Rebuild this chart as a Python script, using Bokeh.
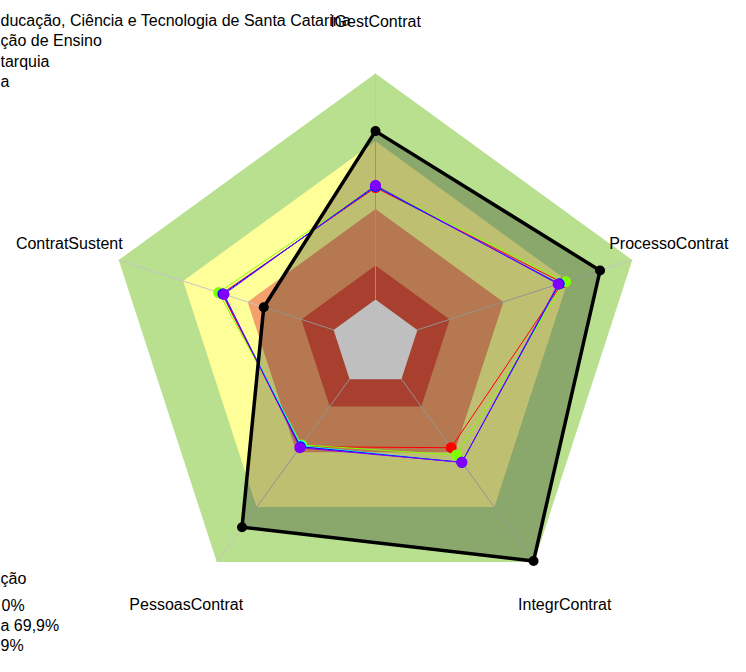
import math
from bokeh.plotting import figure
from bokeh.models import Range1d
from bokeh.embed import file_html
from bokeh.resources import INLINE
from bokeh.core.properties import value

# ---------------- data ----------------
axis_labels = ["IGestContrat", "ProcessoContrat", "IntegrContrat", "PessoasContrat", "ContratSustent"]

# classification bands (upper limit in %), drawn from outside in
band_tops = [100, 70, 40, 15, 0]
band_colors = ["#B9E08F", "#FFFF99", "#F3A06C", "#E0553F", "#FFFFFF"]

# organisation (black, filled)
org_values = [74.5, 85.0, 99.5, 81.0, 32.5]

# comparison series
series_red = [49.5, 67.5, 37.5, 37.0, 52.0]
series_green = [50.5, 69.0, 41.5, 36.0, 53.5]
series_cyan = [50.0, 66.0, 45.5, 36.5, 51.5]
series_blue = [50.0, 66.0, 45.5, 37.0, 51.5]
series_purple = [50.5, 65.5, 45.5, 37.5, 51.0]
series_colors = ["#FF0000", "#80FF00", "#00FFFF", "#0000FF", "#8000FF"]

# legend texts (only the parts visible in the original, which is cut at the left edge)
legend_top = [
    "ducação, Ciência e Tecnologia de Santa Catarina",
    "ção de Ensino",
    "tarquia",
    "a",
]
legend_bottom = [
    "ção",
    "0%",
    "a 69,9%",
    "9%",
]

# ---------------- geometry / style ----------------
HOLE = 19.5              # radial offset (units) of the value 0
OUTER_PX = 270.0         # pixel radius of 100 %
K = OUTER_PX / (HOLE + 100)   # pixels per unit
W, H = 730, 656
CX, CY = 375, 343        # centre in figure pixels

N = len(axis_labels)
angles = [math.pi / 2 - i * 2 * math.pi / N for i in range(N)]


def polar(vals):
    xs = [(HOLE + v) * math.cos(a) for v, a in zip(vals, angles)]
    ys = [(HOLE + v) * math.sin(a) for v, a in zip(vals, angles)]
    return xs, ys


def px(X, Y):
    """figure pixel -> data units"""
    return (X - CX) / K, (CY - Y) / K


p = figure(width=W, height=H, output_backend="svg", toolbar_location=None,
           x_range=Range1d(-CX / K, (W - CX) / K),
           y_range=Range1d(-(H - CY) / K, CY / K),
           min_border=0, min_border_left=0, min_border_right=0,
           min_border_top=0, min_border_bottom=0)
p.axis.visible = False
p.grid.visible = False
p.outline_line_color = None
p.background_fill_color = "white"
p.border_fill_color = "white"

# bands
for top, col in zip(band_tops, band_colors):
    xs, ys = polar([top] * N)
    p.patch(xs, ys, fill_color=col, line_color=None)

# radial spokes
for a in angles:
    p.line([HOLE * math.cos(a), (HOLE + 100) * math.cos(a)],
           [HOLE * math.sin(a), (HOLE + 100) * math.sin(a)],
           line_color="#C4C4C4", line_width=1)

# organisation fill
ox, oy = polar(org_values)
p.patch(ox, oy, fill_color="black", fill_alpha=0.25, line_color=None)

# comparison series
for vals, col in zip([series_red, series_green, series_cyan, series_blue, series_purple], series_colors):
    sx, sy = polar(vals)
    p.line(sx + sx[:1], sy + sy[:1], line_color=col, line_width=1)
    p.scatter(sx, sy, size=11, fill_color=col, line_color=None)

# organisation line
p.line(ox + ox[:1], oy + oy[:1], line_color="black", line_width=3.5, line_join="miter")
p.scatter(ox, oy, size=10, fill_color="black", line_color=None)

# axis labels
LABEL_PX = 322
nudge = [(0, 0), (-13, 0), (0, 0), (0, 0), (0, 0)]
for lab, a, (nx, ny) in zip(axis_labels, angles, nudge):
    lx = LABEL_PX / K * math.cos(a) + nx / K
    ly = LABEL_PX / K * math.sin(a) + ny / K
    p.text([lx], [ly], text=[lab], text_align="center", text_baseline="middle",
           text_font=value("Liberation Sans"), text_font_size="16px", text_color="black")

# legend texts (left start / baseline)
top_pos = [(0, 19.5), (0, 40), (0, 60.5), (0, 81)]
bot_pos = [(0, 578), (1, 605), (0, 625), (0, 645)]
for txt, (X, Y) in zip(legend_top + legend_bottom, top_pos + bot_pos):
    tx, ty = px(X, Y)
    p.text([tx], [ty], text=[txt], text_align="left", text_baseline="alphabetic",
           text_font=value("Liberation Sans"), text_font_size="16px", text_color="black")

open("out.html", "w").write(file_html(p, INLINE))
